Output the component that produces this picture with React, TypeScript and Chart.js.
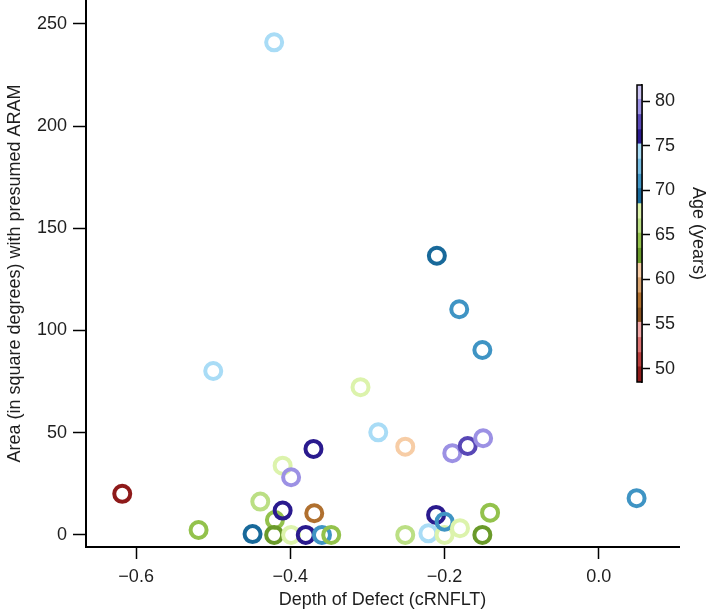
import React, { useEffect, useRef } from 'react';
import { Chart, registerables } from 'chart.js';

Chart.register(...registerables);

// ---- Data ----
const depth = [
  -0.618, -0.519, -0.5, -0.449, -0.439, -0.421, -0.42, -0.421, -0.41, -0.41,
  -0.399, -0.399, -0.38, -0.37, -0.369, -0.359, -0.347, -0.309, -0.286, -0.251,
  -0.251, -0.221, -0.21, -0.211, -0.2, -0.2, -0.19, -0.181, -0.18, -0.17,
  -0.151, -0.15, -0.151, -0.141, 0.049,
];
const area = [
  20.1, 2.4, 80.2, 0.4, 16.3, 241, 7.3, 0, 33.9, 11.9,
  28.2, 0, 0, 42.1, 10.6, 0, 0, 72.3, 50.2, 43.2,
  0, 0.8, 136.6, 9.8, 0, 6.5, 40, 110.4, 3.3, 43.5,
  90.5, 47.3, 0, 10.9, 18,
];
const age = [
  49.3, 64.3, 74.3, 69.3, 66, 74.3, 64.3, 62.7, 67.7, 76,
  79.3, 67.7, 76, 76, 57.7, 71, 64.3, 67.7, 74.3, 61,
  66, 74.3, 69.3, 76, 67.7, 71, 79.3, 71, 67.7, 77.7,
  71, 79.3, 62.7, 64.3, 71,
];

// colour bar: edges of the age bands and their colours (young -> old)
const ageEdges = [
  48.5, 50.2, 51.8, 53.5, 55.2, 56.8, 58.5, 60.2, 61.8, 63.5, 65.2,
  66.8, 68.5, 70.2, 71.8, 73.5, 75.2, 76.8, 78.5, 80.2, 81.8,
];
const ageColors = [
  '#8e1a1a', '#b83c3c', '#dc7272', '#f2a8a8',
  '#8a5220', '#b0702f', '#d9a46f', '#f7cda6',
  '#6a9a2a', '#93c24c', '#bbdf84', '#dcf3ac',
  '#18699a', '#3f94c4', '#76bde3', '#a9dcf6',
  '#2a1a8e', '#5847b6', '#9c91e4', '#ccc4f3',
];

const xMajorTicks = [-0.6, -0.4, -0.2, 0.0];
const yMajorTicks = [0, 50, 100, 150, 200, 250];
const ageTicks = [50, 55, 60, 65, 70, 75, 80];

const FONT = '"Liberation Sans", Arial, Helvetica, sans-serif';
const TEXT = '#1e1e1e';

function colorForAge(a: number): string {
  for (let i = 0; i < ageColors.length; i++) {
    if (a >= ageEdges[i] && a < ageEdges[i + 1]) return ageColors[i];
  }
  return a < ageEdges[0] ? ageColors[0] : ageColors[ageColors.length - 1];
}

const isMajor = (v: number, majors: number[]) =>
  majors.some((m) => Math.abs(m - v) < 1e-6);

const fmtX = (v: number) => {
  const s = (Math.abs(v) < 1e-9 ? 0 : v).toFixed(1);
  return s.replace('-', '\u2212');
};

const minorTicksPlugin = {
  id: 'minorTicks',
  afterDraw(chart: any) {
    const { ctx, chartArea } = chart;
    const xs = chart.scales.x;
    const ys = chart.scales.y;
    ctx.save();
    ctx.strokeStyle = '#000';
    ctx.lineWidth = 1.5;
    ctx.beginPath();
    xs.ticks.forEach((t: any) => {
      if (!isMajor(t.value, xMajorTicks)) {
        const px = Math.round(xs.getPixelForValue(t.value)) + 0.5;
        ctx.moveTo(px, chartArea.bottom);
        ctx.lineTo(px, chartArea.bottom + 7);
      }
    });
    ys.ticks.forEach((t: any) => {
      if (!isMajor(t.value, yMajorTicks)) {
        const py = Math.round(ys.getPixelForValue(t.value)) + 0.5;
        ctx.moveTo(chartArea.left, py);
        ctx.lineTo(chartArea.left - 7, py);
      }
    });
    ctx.stroke();
    ctx.restore();
  },
};

const outlinePlugin = {
  id: 'barOutline',
  afterDatasetsDraw(chart: any) {
    const { ctx, chartArea } = chart;
    ctx.save();
    ctx.strokeStyle = '#000';
    ctx.lineWidth = 1.5;
    ctx.strokeRect(
      chartArea.left,
      chartArea.top,
      chartArea.right - chartArea.left,
      chartArea.bottom - chartArea.top
    );
    ctx.restore();
  },
};

export default function App() {
  const mainRef = useRef<HTMLCanvasElement | null>(null);
  const barRef = useRef<HTMLCanvasElement | null>(null);

  useEffect(() => {
    if (!mainRef.current || !barRef.current) return;

    const points = depth.map((d, i) => ({ x: d, y: area[i] }));
    const colors = age.map(colorForAge);

    const main = new Chart(mainRef.current, {
      type: 'scatter',
      data: {
        datasets: [
          {
            data: points,
            pointRadius: 8,
            pointHoverRadius: 8,
            pointBorderWidth: 4,
            pointBackgroundColor: 'rgba(0,0,0,0)',
            pointBorderColor: colors,
            clip: false,
          },
        ],
      },
      options: {
        animation: false,
        responsive: false,
        devicePixelRatio: 1,
        layout: { autoPadding: false, padding: { left: 0, right: 30, top: 0, bottom: 0 } },
        plugins: { legend: { display: false }, tooltip: { enabled: false } },
        scales: {
          x: {
            type: 'linear',
            min: -0.665,
            max: 0.104,
            afterFit: (s: any) => {
              s.height = 66;
              s.paddingLeft = 0;
              s.paddingRight = 0;
            },
            ticks: {
              stepSize: 0.02,
              includeBounds: false,
              autoSkip: false,
              maxRotation: 0,
              padding: 7,
              color: TEXT,
              font: { family: FONT, size: 18 },
              callback: (v: any) => (isMajor(Number(v), xMajorTicks) ? fmtX(Number(v)) : null),
            },
            grid: {
              drawOnChartArea: false,
              tickLength: 12,
              tickWidth: 1.5,
              tickColor: (c: any) =>
                c.tick && isMajor(c.tick.value, xMajorTicks) ? '#000' : 'rgba(0,0,0,0)',
            },
            border: { display: true, color: '#000', width: 2 },
            title: {
              display: true,
              text: 'Depth of Defect (cRNFLT)',
              color: TEXT,
              font: { family: FONT, size: 18 },
              padding: { top: 0, bottom: 2 },
            },
          },
          y: {
            type: 'linear',
            min: -5.9,
            max: 261.7,
            afterFit: (s: any) => {
              s.width = 86;
              s.paddingTop = 0;
              s.paddingBottom = 0;
            },
            ticks: {
              stepSize: 10,
              includeBounds: false,
              autoSkip: false,
              padding: 6,
              color: TEXT,
              font: { family: FONT, size: 18 },
              callback: (v: any) => (isMajor(Number(v), yMajorTicks) ? String(v) : null),
            },
            grid: {
              drawOnChartArea: false,
              tickLength: 13,
              tickWidth: 1.5,
              tickColor: (c: any) =>
                c.tick && isMajor(c.tick.value, yMajorTicks) ? '#000' : 'rgba(0,0,0,0)',
            },
            border: { display: true, color: '#000', width: 2 },
            title: {
              display: true,
              text: 'Area (in square degrees) with presumed ARAM',
              color: TEXT,
              font: { family: FONT, size: 18 },
              padding: { top: 4, bottom: 0 },
            },
          },
        },
      },
      plugins: [minorTicksPlugin],
    } as any);

    const bar = new Chart(barRef.current, {
      type: 'bar',
      data: {
        labels: [''],
        datasets: ageColors.map((c, i) => ({
          data: [[ageEdges[i], ageEdges[i + 1]]],
          backgroundColor: c,
          borderWidth: 0,
          grouped: false,
          barPercentage: 1,
          categoryPercentage: 1,
        })),
      },
      options: {
        animation: false,
        responsive: false,
        devicePixelRatio: 1,
        layout: { autoPadding: false, padding: { left: 37, right: 0, top: 25, bottom: 28 } },
        plugins: { legend: { display: false }, tooltip: { enabled: false } },
        scales: {
          x: { type: 'category', display: false },
          y: {
            type: 'linear',
            position: 'right',
            min: ageEdges[0],
            max: ageEdges[ageEdges.length - 1],
            afterFit: (s: any) => {
              s.width = 67;
            },
            afterBuildTicks: (s: any) => {
              s.ticks = ageTicks.map((v) => ({ value: v }));
            },
            ticks: {
              padding: 5,
              color: TEXT,
              font: { family: FONT, size: 18 },
            },
            grid: {
              drawOnChartArea: false,
              tickLength: 8,
              tickWidth: 1.5,
              tickColor: '#000',
            },
            border: { display: true, color: '#000', width: 1.5 },
            title: {
              display: true,
              text: 'Age (years)',
              color: TEXT,
              font: { family: FONT, size: 18 },
              padding: { top: 0, bottom: 0 },
            },
          },
        },
      },
      plugins: [outlinePlugin],
    } as any);

    return () => {
      main.destroy();
      bar.destroy();
    };
  }, []);

  return (
    <div style={{ position: 'absolute', left: 0, top: 0, width: 709, height: 613, background: '#fff' }}>
      <canvas
        ref={mainRef}
        width={709}
        height={613}
        style={{ position: 'absolute', left: 0, top: 0, width: 709, height: 613, display: 'block' }}
      />
      <canvas
        ref={barRef}
        width={109}
        height={350}
        style={{ position: 'absolute', left: 600, top: 60, width: 109, height: 350, display: 'block' }}
      />
    </div>
  );
}
